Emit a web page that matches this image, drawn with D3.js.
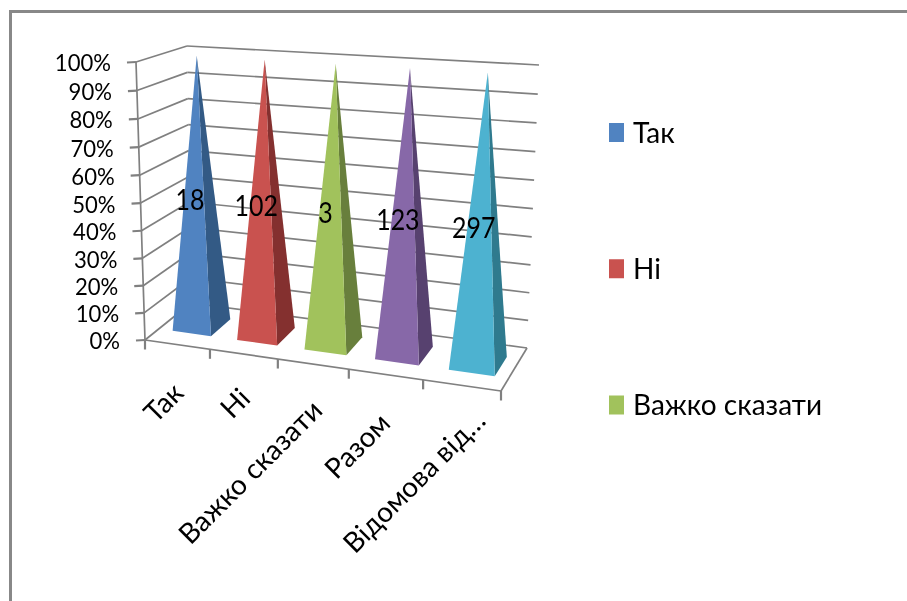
<!DOCTYPE html>
<html><head><meta charset="utf-8">
<script src="https://cdnjs.cloudflare.com/ajax/libs/d3/7.8.5/d3.min.js"></script>
<style>html,body{margin:0;padding:0;background:#fff}svg{display:block;filter:blur(.45px)}text{font-family:"Lato","Open Sans",sans-serif;fill:#000}</style>
</head><body><div id="c"></div>
<script>
const categories=["Так","Ні","Важко сказати","Разом","Відомова від..."];
const dataLabels=[18,102,3,123,297];
const shares=[100,100,100,100,100];
const yTicks=[0,10,20,30,40,50,60,70,80,90,100];
const legendItems=["Так","Ні","Важко сказати"];
const faceColors=["#5083c1","#c9524f","#a1c25c","#8768a8","#4db2d0"];
const sideColors=["#335a85","#84302f","#687f3c","#57416f","#2f7a8e"];

const W=907,H=601,GRID="#808080";
const svg=d3.select("#c").append("svg").attr("width",W).attr("height",H);
const fit=(sel,f)=>{sel.attr("lengthAdjust","spacingAndGlyphs").attr("textLength",sel.node().getComputedTextLength()*f);return sel;};

// The 3D box, as linear scales along its edges
const xB={f:d3.scaleLinear([0,1],[145,501]),b:d3.scaleLinear([0,1],[191,527])};
const yB={f:d3.scaleLinear([0,1],[340,391]),b:d3.scaleLinear([0,1],[303,348])};
const xT={f:d3.scaleLinear([0,1],[136,513]),b:d3.scaleLinear([0,1],[187,539])};
const yT={f:d3.scaleLinear([0,1],[62,85]),b:d3.scaleLinear([0,1],[46,65])};
const persp=(s,a)=>s/(a-(a-1)*s);
const yScale=d3.scaleLinear([0,100],[0,1]);
const band=d3.scaleBand().domain(categories).range([0,1]).paddingInner(.4).paddingOuter(.2).align(.55);
function P(u,d,v){
  const t=persp(u,1.12),k=persp(yScale(v),1.03),l=(a,b,s)=>a+(b-a)*s;
  const bx=l(xB.f(t),xB.b(t),d),by=l(yB.f(t),yB.b(t),d);
  const tx=l(xT.f(t),xT.b(t),d),ty=l(yT.f(t),yT.b(t),d);
  return [l(bx,tx,k),l(by,ty,k)];
}
const line=d3.line();
const seg=(a,b,w)=>svg.append("path").attr("d",line([a,b])).attr("fill","none").attr("stroke",GRID).attr("stroke-width",w||1.7);

// frame
svg.append("path").attr("d",line([[10.5,H],[10.5,11.5],[W,11.5]])).attr("fill","none").attr("stroke","#888").attr("stroke-width",3);

// walls
yTicks.forEach(v=>{
  seg(P(0,0,v),P(0,1,v));
  seg(P(0,1,v),P(1,1,v));
  const p=P(0,0,v);
  seg([p[0]-9,p[1]+.5],p,2.2);
  fit(svg.append("text").attr("x",p[0]-25).attr("y",p[1]+1).attr("dy","0.36em").attr("text-anchor","end").attr("font-size",23.5).text(v+"%"),.94);
});
seg(P(0,0,0),P(0,0,100));
// floor
seg(P(0,0,0),P(1,0,0));
seg(P(1,0,0),P(1,1,0));
d3.range(0,6).forEach(i=>{const p=P(i/5,0,0);seg(p,[p[0],p[1]+9.5],2.2)});

// pyramids
categories.forEach((c,i)=>{
  const u0=band(c),u1=u0+band.bandwidth(),uc=(u0+u1)/2;
  const apex=P(uc,.52,shares[i]);
  const fl=P(u0,.3,0),fr=P(u1,.3,0),br=P(u1,.75,0);
  svg.append("path").attr("d",line([apex,fr,br])+"Z").attr("fill",sideColors[i]);
  svg.append("path").attr("d",line([apex,fl,fr])+"Z").attr("fill",faceColors[i]);
});
// data labels
categories.forEach((c,i)=>{
  const uc=band(c)+band.bandwidth()/2,p=P(uc,.52,50);
  fit(svg.append("text").attr("x",p[0]-9).attr("y",p[1]+7).attr("dy","0.36em").attr("text-anchor","middle").attr("font-size",29).text(dataLabels[i]),.86);
});
// category labels
const lblOff=[[1,43],[1.4,39],[4,41],[-.6,43.5],[18.5,30]];
categories.forEach((c,i)=>{
  const uc=(i+.5)/categories.length,p=P(uc,0,0);
  svg.append("text").attr("transform",`translate(${p[0]+lblOff[i][0]},${p[1]+lblOff[i][1]}) rotate(-45)`)
   .attr("text-anchor","end").attr("dy","0.36em").attr("font-size",28).text(c.replace("...","…"));
});
// legend
const legY=d3.scalePoint().domain(legendItems).range([132.5,405]);
legendItems.forEach((t,i)=>{
  const y=legY(t);
  svg.append("rect").attr("x",609).attr("y",y-9.5).attr("width",15).attr("height",19).attr("fill",faceColors[i]);
  svg.append("text").attr("x",633).attr("y",y).attr("dy","0.36em").attr("font-size",28).text(t);
});
</script></body></html>
